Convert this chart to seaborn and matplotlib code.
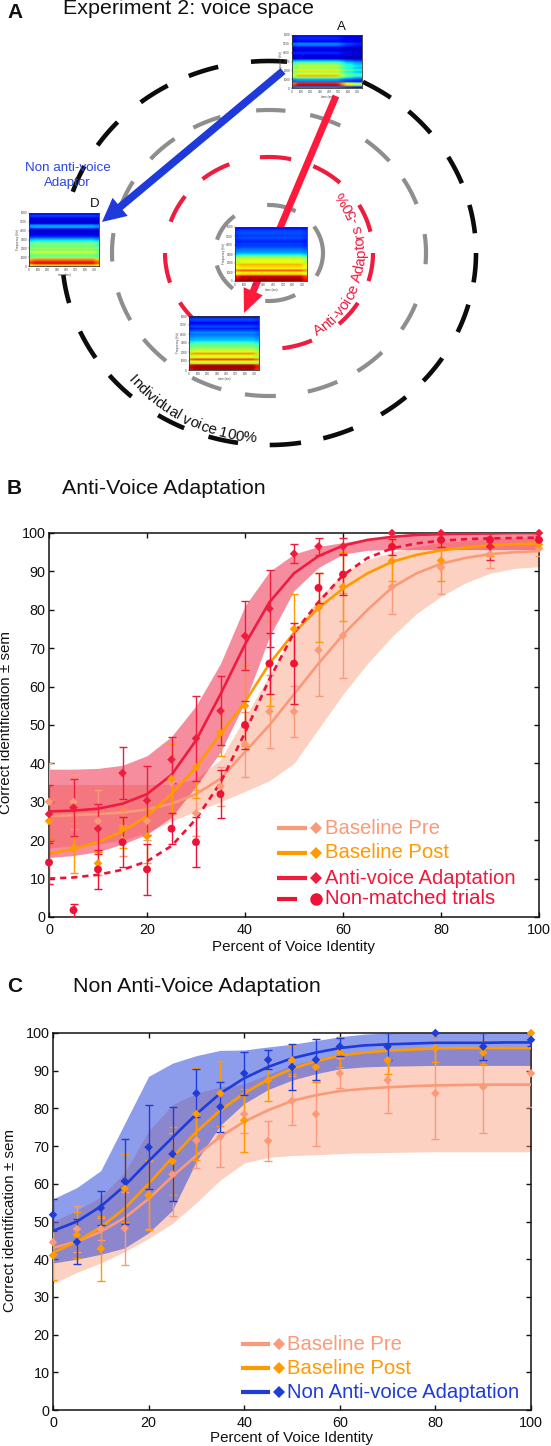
import numpy as np
import seaborn as sns
import matplotlib
matplotlib.use("Agg")
import matplotlib.pyplot as plt
from matplotlib.patches import FancyArrowPatch
from matplotlib.font_manager import FontProperties
from matplotlib.textpath import TextToPath

# --- data: points ---
x_pts = [0, 5, 10, 15, 20, 25, 30, 35, 40, 45, 50, 55, 60, 70, 80, 90, 100]
x_fit = [0, 5, 10, 15, 20, 25, 30, 35, 40, 45, 50, 55, 60, 65, 70, 75, 80, 85, 90, 95, 100]

# panel B
b_pre = [30, 30, 25, 20, 25, 35, 27, 34, 45, 53.5, 53.5, 69.5, 73.3, 86, 91, 94.5, 96]
b_pre_sem = [10, 7, 8, 4, 5, 8, 6, 5, 8.5, 9.5, 6.7, 12, 11, 7, 7, 3.5, 2]
b_post = [25, 18, 14, 23, 21, 36, 39, 48, 55, 66, 75, 80.5, 86, 92.7, 92.8, 96.5, 97]
b_post_sem = [5, 6.5, 3, 5, 7, 9, 8, 6, 10.5, 11, 9, 9, 9, 5.3, 5.3, 2.5, 1]
b_anti = [26.8, 28.5, 23, 37.5, 30.3, 41, 46.5, 53.7, 73.2, 80.3, 94.6, 96.5, 96.5, 100, 100, 96.5, 100]
b_anti_sem = [7.5, 7.5, 6.5, 6.8, 9, 6, 11, 9, 9, 10, 2.5, 2.3, 2.3, 0, 0, 3.5, 0]
b_non = [14.2, 1.8, 12.4, 19.5, 12.4, 23, 19.5, 32, 50, 66, 66, 85.7, 89.2, 96.4, 98.2, 98.2, 98.2]
b_non_sem = [5.5, 1.7, 5, 6.5, 6.7, 4, 6.5, 6.2, 6.2, 8, 10.5, 4, 5.3, 2, 1.8, 1.8, 1]

b_pre_fit = [26.3, 26.5, 26.8, 27.2, 28, 29.5, 32, 36, 43, 50, 58, 66, 73.5, 80, 85.8, 89.5, 92, 93.5, 94.5, 95, 95.3]
b_post_fit = [16.5, 17.7, 19.5, 22.3, 26.3, 32, 39, 47.7, 56, 66, 74, 80.5, 85.5, 89.5, 92.5, 94.3, 95.5, 96.2, 96.8, 97.1, 97.3]
b_anti_fit = [27.5, 27.7, 28.2, 29.5, 32, 37, 46, 58, 71, 82, 89.5, 94, 96.7, 98.2, 99, 99.5, 99.7, 99.8, 99.9, 100, 100]
b_non_fit = [10, 10.3, 11, 12.3, 14.5, 18.5, 25.5, 35, 48, 62, 74, 82, 89, 93.5, 96, 97.3, 98, 98.4, 98.6, 98.7, 98.8]

b_pre_up = [34.5, 34.5, 34.5, 34.5, 34.5, 34.5, 36, 41, 52, 63, 74, 83, 89.5, 93, 95, 96.5, 97.5, 98, 98.5, 98.8, 99]
b_pre_lo = [18, 18.5, 19, 20, 22, 25, 27.5, 30, 32.7, 35.5, 40, 49, 58, 66, 73, 79, 83.5, 87, 89.5, 90.8, 91.2]
b_anti_up = [38.5, 38.5, 38.7, 39.5, 42, 47, 55, 66, 81, 90, 94.5, 96.5, 97.5, 98.5, 99, 99.5, 99.8, 100, 100, 100, 100]
b_anti_lo = [15.5, 16, 17, 19, 21.5, 26, 34, 43, 56, 73, 85, 91, 94.5, 95.5, 95.7, 95.7, 95.7, 95.7, 95.7, 95.7, 95.7]

# panel C
c_pre = [44.5, 48, 48, 48.2, 57, 62.5, 71.5, 72.5, 78.5, 71.4, 82, 78.5, 89.3, 87.5, 84, 85.7, 89.3]
c_pre_sem = [3, 6, 3, 9.7, 9, 11, 7.2, 8, 5, 5.3, 6.5, 8.5, 4, 8.7, 12, 12.2, 9]
c_post = [41, 46.4, 42.8, 58.8, 57, 66, 78.5, 84, 76.8, 87.5, 92.8, 91, 95, 92.8, 96, 94.8, 100]
c_post_sem = [6.5, 6, 8.6, 9, 9.3, 9, 12.3, 8.6, 8.4, 5.5, 3.8, 4, 3.9, 3.7, 3.6, 3, 0]
c_non = [51.8, 44.6, 53.6, 60.7, 69.7, 67.9, 84, 80.4, 89.3, 92.9, 91, 92.9, 96.4, 96.4, 100, 96.4, 98.2]
c_non_sem = [4.3, 6, 4.5, 11.3, 11.2, 12.4, 6.4, 6.6, 5.7, 2.5, 6, 5.4, 2.4, 3.5, 0, 3.6, 1.7]

c_pre_fit = [43, 44.7, 47.3, 51, 56, 62, 67.5, 72.5, 76.5, 79.5, 82, 83.5, 84.6, 85.2, 85.6, 85.9, 86.1, 86.2, 86.3, 86.3, 86.3]
c_post_fit = [41.7, 44.7, 48.5, 53.5, 60, 67, 73.8, 79.5, 84, 87.7, 90.5, 92.5, 94, 94.8, 95.3, 95.6, 95.9, 96, 96, 96, 96]
c_non_fit = [47.5, 50, 54, 59.5, 66, 72.3, 78.5, 84, 88, 91, 93.3, 94.8, 96, 96.7, 97, 97.2, 97.4, 97.4, 97.4, 97.5, 97.5]

c_pre_up = [50, 53, 56.5, 63, 74, 81, 84, 85.7, 86.5, 89, 91.5, 93, 94.5, 95, 95.5, 95.8, 96, 96, 96, 96, 96]
c_pre_lo = [33.5, 36.5, 39, 42, 45.5, 49.5, 55, 61, 65.5, 67, 67.5, 67.7, 68, 68.2, 68.3, 68.4, 68.5, 68.5, 68.5, 68.5, 68.5]
c_non_up = [56, 59, 63.5, 76, 88.5, 92, 94, 95.4, 95.5, 96.3, 97, 98, 99, 99.7, 100, 100, 100, 100, 100, 100, 100]
c_non_lo = [39, 40, 41.3, 43, 47, 53, 66, 75.5, 81.3, 85, 87.5, 89.2, 90.5, 91, 91.2, 91.3, 91.4, 91.4, 91.4, 91.4, 91.4]

# voice space rings: dash start/end angles in degrees
black_arcs = [(85, 95), (54, 63), (38.7, 47.6), (21.3, 30), (5.9, 14.5), (-8.8, 0), (-24.3, -15.6), (-41.8, -33.2),
              (-57.2, -48.6), (-74.8, -66), (-89.8, -81.1), (-107, -98.6), (-122.4, -114.2), (-140.4, -131.6),
              (-155.9, -146.9), (-173.5, -164.9), (153.1, 161.4), (137, 145.9), (119.3, 128.3), (104.2, 112.8)]
gray_arcs = [(-4.5, 7.6), (20, 31.3), (40, 52), (63, 74.8), (84, 94.7), (108, 118.8), (127, 138.9), (150, 161),
             (172, 183.4), (196, 208), (217, 229), (240.7, 252.3), (261.2, 272.5), (284.3, 295.8), (304.3, 316), (327.7, 339.2)]
red_arcs = [(77.7, 95), (47, 64.8), (12.8, 30), (-17, 0), (-47.7, -31.3), (-82.6, -65.6), (-149, -125), (-180, -162),
            (143.7, 161), (112.4, 129.7)]
inner_arcs = [(60.5, 92), (-28.5, 33.5), (-94, -61), (-165, -132), (129.5, 164)]

# spectrogram levels, rows from top to bottom, jet scale
spec_a = [.1, .17, .15, .12, .26, .24, .12, .08, .1, .17, .1, .08, .08, .3, .45, .52, .58, .52, .66, .52, .63, .72, .5, .3, .25, .88, .95, .25]
spec_d = [.1, .2, .13, .07, .07, .1, .28, .3, .13, .07, .08, .1, .17, .27, .36, .46, .52, .47, .56, .47, .63, .52, .47, .52, .75, .85, .92, .7]
spec_c = [.12, .18, .2, .2, .18, .2, .18, .16, .18, .18, .2, .24, .26, .3, .38, .52, .6, .64, .62, .72, .68, .65, .82, .65, .68, .92, .95, .98]
spec_b = [.12, .2, .18, .1, .16, .2, .15, .2, .26, .24, .26, .3, .32, .38, .47, .48, .53, .58, .62, .75, .6, .62, .85, .62, .6, .95, .98, .95]
fade_a = [.9, 1, 1, 1, 1, 1, 1, 1, 1, 1, .98, .85, .72, .7, .62, .6]
fade_flat = [.95, 1, 1, 1, 1, 1, 1, 1, 1, 1, 1, 1, 1, 1, 1, .92]

spec_freq = ['0', '1000', '2000', '3000', '4000', '5000', '6000']
spec_time = ['0', '100', '200', '300', '400', '500', '600', '700']

PRE = "#FA9A78"
POST = "#FF9A00"
RED = "#EE1C3E"
DOT = "#EE1238"
BLUE = "#1E3CD8"
W, H = 551, 1446

sns.set_theme(style="ticks")
plt.rcParams['font.family'] = ['Liberation Sans', 'DejaVu Sans']
plt.rcParams['lines.scale_dashes'] = False

fig = plt.figure(figsize=(W / 100, H / 100), dpi=100)


def px_axes(left, top, right, bottom, **kw):
    return fig.add_axes([left / W, 1 - bottom / H, (right - left) / W, (bottom - top) / H], **kw)


ov = px_axes(0, 0, W, H, zorder=3)
ov.set_xlim(0, W)
ov.set_ylim(H, 0)
ov.axis('off')
ov.patch.set_alpha(0)


def style_axes(ax):
    ax.set_xlim(0, 100)
    ax.set_ylim(0, 100)
    ax.set_xticks(range(0, 101, 20))
    ax.set_yticks(range(0, 101, 10))
    ax.tick_params(direction='in', top=True, right=True, length=3.5, width=1, labelsize=10.4, pad=2.5, colors='#111111')
    ax.tick_params(axis='x', pad=4)
    for s in ax.spines.values():
        s.set_linewidth(1.1)
        s.set_color('#111111')


def band(ax, lo, up, color, alpha):
    ax.fill_between(x_fit, lo, up, color=color, alpha=alpha, lw=0)


def series(ax, y, sem, fit, color, marker='D', size=19, ls='-', z=3):
    sns.lineplot(x=x_fit, y=fit, ax=ax, color=color, lw=1.9, linestyle=ls, zorder=z)
    ax.errorbar(x_pts, y, yerr=sem, fmt='none', ecolor=color, elinewidth=1.0, capsize=3.2, capthick=1.0, zorder=z)
    sns.scatterplot(x=x_pts, y=y, ax=ax, color=color, marker=marker, s=size, edgecolor='none', clip_on=False, zorder=z + .5)


def legend_rows(x0, xm, xt, rows):
    for y, label, color, marker, seg, ms in rows:
        ov.plot([x0, seg], [y, y], color=color, lw=3.0, solid_capstyle='butt')
        ov.plot([xm], [y], marker=marker, color=color, ms=ms, mew=0)
        ov.text(xt, y, label, color=color, fontsize=14.6, va='center', ha='left')


# --- panel B ---
ax_b = px_axes(49, 533, 539, 917, zorder=1)
band(ax_b, b_pre_lo, b_pre_up, PRE, .45)
band(ax_b, b_anti_lo, b_anti_up, RED, .5)
series(ax_b, b_pre, b_pre_sem, b_pre_fit, PRE)
series(ax_b, b_post, b_post_sem, b_post_fit, POST)
series(ax_b, b_non, b_non_sem, b_non_fit, DOT, marker='o', size=32, ls=(0, (4.5, 3.5)))
series(ax_b, b_anti, b_anti_sem, b_anti_fit, RED)
style_axes(ax_b)
legend_rows(277, 316, 325, [
    (828, 'Baseline Pre', PRE, 'D', 307, 6.2),
    (853, 'Baseline Post', POST, 'D', 307, 6.2),
    (878, 'Anti-voice Adaptation', RED, 'D', 307, 6.2),
    (899, 'Non-matched trials', DOT, 'o', 297, 9),
])
ov.text(294, 947, 'Percent of Voice Identity', fontsize=10.9, ha='center', va='center', color='#111111')
ov.text(6, 723, 'Correct identification ± sem', fontsize=10.9, rotation=90, ha='center', va='center', color='#111111')

# --- panel C ---
ax_c = px_axes(53, 1033, 531, 1410, zorder=1)
band(ax_c, c_pre_lo, c_pre_up, PRE, .45)
band(ax_c, c_non_lo, c_non_up, BLUE, .5)
series(ax_c, c_pre, c_pre_sem, c_pre_fit, PRE)
series(ax_c, c_post, c_post_sem, c_post_fit, POST)
series(ax_c, c_non, c_non_sem, c_non_fit, BLUE)
style_axes(ax_c)
legend_rows(241, 279, 287, [
    (1344, 'Baseline Pre', PRE, 'D', 270, 6.2),
    (1368, 'Baseline Post', POST, 'D', 270, 6.2),
    (1392, 'Non Anti-voice Adaptation', BLUE, 'D', 270, 6.2),
])
ov.text(292, 1438, 'Percent of Voice Identity', fontsize=10.9, ha='center', va='center', color='#111111')
ov.text(10, 1220, 'Correct identification ± sem', fontsize=10.9, rotation=90, ha='center', va='center', color='#111111')

# --- titles ---
for x, y, letter, title_x, title in [(7, 13, 'A', 63, 'Experiment 2: voice space'),
                                     (7, 489, 'B', 62, 'Anti-Voice Adaptation'),
                                     (7, 986, 'C', 73, 'Non Anti-Voice Adaptation')]:
    ov.text(x, y, letter, fontsize=15, fontweight='bold', va='center', ha='left', color='#111111')
    ov.text(title_x, y - 5 if letter == 'A' else y, title, fontsize=15.4, va='center', ha='left', color='#111111')

# --- panel A: voice space ---
CX, CY = 269, 253


def ring(a, b, arcs, color, lw):
    for t0, t1 in arcs:
        th = np.radians(np.linspace(t0, t1, 30))
        ov.plot(CX + a * np.cos(th), CY - b * np.sin(th), color=color, lw=lw, solid_capstyle='butt', zorder=1)


ring(207, 192, black_arcs, '#0c0c0c', 3.3)
ring(157, 143, gray_arcs, '#8e8e8e', 3.0)
ring(104, 96, red_arcs, RED, 3.0)
ring(54, 48, inner_arcs, '#8e8e8e', 3.0)

ov.add_patch(FancyArrowPatch((283, 71), (102, 222), mutation_scale=1, lw=0, color='#1F3ADB', zorder=2,
                             shrinkA=0, shrinkB=0,
                             arrowstyle='simple,head_length=17,head_width=17,tail_width=5.5'))
ov.add_patch(FancyArrowPatch((336, 96), (244, 313), mutation_scale=1, lw=0, color='#FF1A3C', zorder=2,
                             shrinkA=0, shrinkB=0,
                             arrowstyle='simple,head_length=17,head_width=15,tail_width=5'))

ov.text(67.5, 168, 'Non anti-voice', color='#2A44E8', fontsize=9.6, ha='center', va='center', zorder=4)
ov.text(67.5, 183, 'Adaptor', color='#2A44E8', fontsize=9.6, ha='center', va='center', zorder=4)
ov.text(341.5, 27, 'A', color='#111111', fontsize=9.5, ha='center', va='center')
ov.text(95, 204, 'D', color='#111111', fontsize=9.5, ha='center', va='center')


def curved_text(s, theta0, r, color, size):
    # letter by letter along a circle round the centre, reading anticlockwise
    prop = FontProperties(family='Liberation Sans', size=size)
    ttp = TextToPath()
    bar = ttp.get_text_width_height_descent('|', prop, False)[0]
    for i, ch in enumerate(s):
        w0 = ttp.get_text_width_height_descent(s[:i] + '|', prop, False)[0] - bar
        w1 = ttp.get_text_width_height_descent(s[:i + 1] + '|', prop, False)[0] - bar
        mid = (w0 + w1) / 2 * 100 / 72
        th = np.radians(theta0) + mid / r
        ov.text(CX + r * np.cos(th), CY - r * np.sin(th), ch, color=color, fontsize=size,
                rotation=np.degrees(th) + 90, rotation_mode='anchor', ha='center', va='baseline', zorder=4)


curved_text('Individual voice 100%', 222, 190, '#111111', 10.9)
curved_text('Anti-voice Adaptors -50%', -60, 96, RED, 10.8)


def spectrogram(left, top, right, bottom, rows, fade):
    ax = px_axes(left, top, right, bottom, zorder=5)
    ax.imshow(np.outer(rows, fade), cmap='jet', vmin=0, vmax=1, aspect='auto', interpolation='bilinear',
              extent=[0, 750, 0, 6000])
    ax.set_xticks([100 * i for i in range(len(spec_time))], spec_time)
    ax.set_yticks([1000 * i for i in range(len(spec_freq))], spec_freq)
    ax.tick_params(length=1, width=.3, labelsize=2.2, pad=.5, colors='#444444')
    ax.set_xlabel('time (ms)', fontsize=2.2, labelpad=.5, color='#444444')
    ax.set_ylabel('Frequency (Hz)', fontsize=2.2, labelpad=.5, color='#444444')
    for s in ax.spines.values():
        s.set_linewidth(.6)
        s.set_color('#333333')


spectrogram(292, 35, 362, 88, spec_a, fade_a)
spectrogram(29, 213, 99, 266, spec_d, fade_flat)
spectrogram(235, 227, 307, 281, spec_c, fade_flat)
spectrogram(189, 316, 259, 370, spec_b, fade_flat)

plt.savefig('out.png', dpi=100)
